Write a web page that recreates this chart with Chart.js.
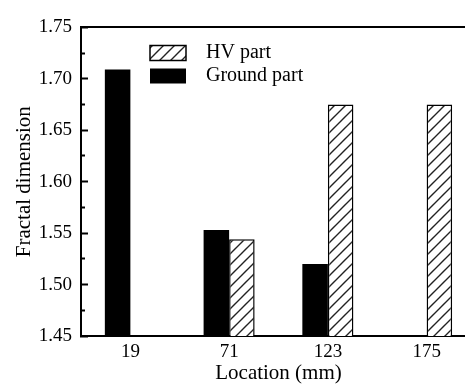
<!DOCTYPE html>
<html>
<head>
<meta charset="utf-8">
<script src="https://cdn.jsdelivr.net/npm/chart.js@4/dist/chart.umd.min.js"></script>
<style>
  html, body { margin: 0; padding: 0; background: #fff; }
  #wrap { width: 465px; height: 384px; overflow: hidden; }
</style>
</head>
<body>
<div id="wrap"><canvas id="chart" width="478" height="384"></canvas></div>
<script>
// Data
const locations = ['19', '71', '123', '175'];
const groundPart = [1.709, 1.553, 1.520, null];
const hvPart = [null, 1.544, 1.675, 1.675];
const yMin = 1.45, yMax = 1.75, yStep = 0.025;

const serif = 'Liberation Serif';

// diagonal hatch for the HV bars
function hatch() {
    const p = 11;
    const c = document.createElement('canvas');
    c.width = p; c.height = p;
    const g = c.getContext('2d');
    g.fillStyle = '#fff';
    g.fillRect(0, 0, p, p);
    g.strokeStyle = '#222';
    g.lineWidth = 1.4;
    g.beginPath();
    g.moveTo(-1, p + 1); g.lineTo(p + 1, -1);
    g.moveTo(-2, 2); g.lineTo(2, -2);
    g.moveTo(p - 2, p + 2); g.lineTo(p + 2, p - 2);
    g.stroke();
    return g.createPattern(c, 'repeat');
}

// put the legend inside the plot, top left
const legendPlacement = {
    id: 'legendPlacement',
    afterLayout(chart) {
        chart.legend.left = 147;
        chart.legend.top = 40;
    }
};

new Chart(document.getElementById('chart'), {
    type: 'bar',
    data: {
        labels: locations,
        datasets: [
            {
                label: 'Ground part',
                data: groundPart,
                backgroundColor: '#000',
                borderColor: '#000',
                borderWidth: 0
            },
            {
                label: 'HV part',
                data: hvPart,
                backgroundColor: hatch(),
                borderColor: '#000',
                borderWidth: 1.5
            }
        ]
    },
    options: {
        responsive: false,
        animation: false,
        layout: { padding: { left: 0, right: 2, top: 0, bottom: 0 } },
        datasets: {
            bar: { categoryPercentage: 0.517, barPercentage: 1 }
        },
        plugins: {
            legend: {
                position: 'chartArea',
                align: 'start',
                reverse: true,
                labels: {
                    color: '#000',
                    font: { family: serif, size: 20 },
                    boxWidth: 36,
                    boxHeight: 15,
                    padding: 3,
                    generateLabels(chart) {
                        const items = Chart.defaults.plugins.legend.labels.generateLabels(chart);
                        items.forEach(it => { it.text = '  ' + it.text; });
                        return items;
                    }
                }
            },
            tooltip: { enabled: false }
        },
        scales: {
            x: {
                type: 'category',
                position: 'bottom',
                grid: { display: false, drawTicks: false },
                border: { display: true, color: '#000', width: 2 },
                ticks: { color: '#000', font: { family: serif, size: 19 }, padding: 5 },
                title: {
                    display: true,
                    text: 'Location (mm)',
                    color: '#000',
                    font: { family: serif, size: 21, lineHeight: 1 },
                    padding: { top: 0, bottom: 0 }
                },
                afterFit(scale) { scale.height = 48; }
            },
            xTop: {
                type: 'category',
                position: 'top',
                grid: { display: false, drawTicks: false },
                border: { display: true, color: '#000', width: 2 },
                ticks: { display: false },
                afterFit(scale) { scale.height = 20; }
            },
            y: {
                min: yMin,
                max: yMax,
                grid: {
                    drawOnChartArea: false,
                    drawTicks: true,
                    tickLength: -7,
                    tickColor: '#000',
                    tickWidth: 2,
                    // minor ticks: skip the inner 3px so they come out shorter
                    tickBorderDash: (ctx) => (ctx.index % 2 === 0 ? [] : [0, 3, 10, 0])
                },
                border: { display: true, color: '#000', width: 2 },
                ticks: {
                    stepSize: yStep,
                    color: '#000',
                    font: { family: serif, size: 19 },
                    padding: 16,
                    autoSkip: false,
                    callback: (v, i) => (i % 2 === 0 ? Number(v).toFixed(2) : '')
                },
                title: {
                    display: true,
                    text: 'Fractal dimension',
                    color: '#000',
                    font: { family: serif, size: 21, lineHeight: 1 },
                    padding: { top: 14, bottom: 0 }
                },
                afterFit(scale) { scale.width = 81; }
            }
        }
    },
    plugins: [legendPlacement]
});
</script>
</body>
</html>
